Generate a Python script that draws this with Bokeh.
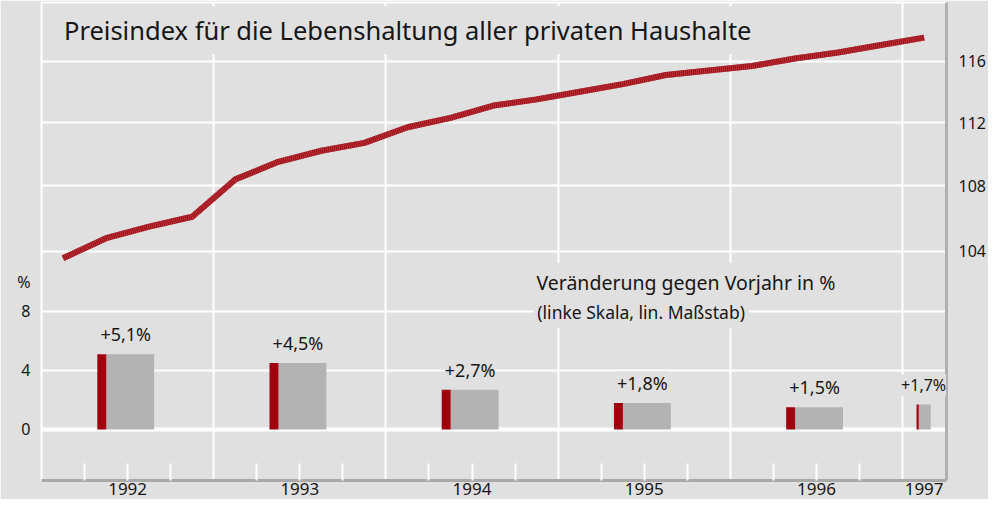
from bokeh.plotting import figure
from bokeh.models import (Range1d, LogScale, LogAxis, FixedTicker, Grid,
                          BasicTickFormatter, ColumnDataSource, LabelSet, Label)
from bokeh.core.properties import value
from bokeh.embed import file_html
from bokeh.resources import INLINE

# ---------------- data ----------------
# Preisindex (quarterly, right log scale)
q_year = [1992, 1992, 1992, 1992, 1993, 1993, 1993, 1993, 1994, 1994, 1994, 1994,
          1995, 1995, 1995, 1995, 1996, 1996, 1996, 1996, 1997]
q_num = [1, 2, 3, 4, 1, 2, 3, 4, 1, 2, 3, 4, 1, 2, 3, 4, 1, 2, 3, 4, 1]
cpi = [103.6, 104.8, 105.5, 106.1, 108.4, 109.5, 110.2, 110.7, 111.7, 112.3, 113.1,
       113.5, 114.0, 114.5, 115.1, 115.4, 115.7, 116.2, 116.6, 117.1, 117.6]

# Veränderung gegen Vorjahr (left linear scale)
periods = [1992, 1993, 1994, 1995, 1996, 1997]
period_span = [1, 1, 1, 1, 1, 0.25]
change = [5.1, 4.5, 2.7, 1.8, 1.5, 1.7]
change_labels = ["+5,1%", "+4,5%", "+2,7%", "+1,8%", "+1,5%", "+1,7%"]
year_labels = ["1992", "1993", "1994", "1995", "1996", "1997"]
left_ticks = [0, 4, 8]
right_ticks = [104, 108, 112, 116]

title_text = "Preisindex für die Lebenshaltung aller privaten Haushalte"
sub1_text = "Veränderung gegen Vorjahr in %"
sub2_text = "(linke Skala, lin. Maßstab)"

# ---------------- style ----------------
FONT = "Noto Sans"
BG = "#e0e0e0"
TXT = "#161616"
RED = "#a0000e"
GREY = "#b3b3b3"

p = figure(width=988, height=499,
           x_range=Range1d(1992.0, 1997.255), y_range=Range1d(-3.46, 28.95),
           output_backend="svg", toolbar_location=None,
           background_fill_color=BG, border_fill_color=BG,
           min_border_left=41, min_border_right=39, min_border_top=2,
           min_border_bottom=19)
p.extra_y_ranges = {"log": Range1d(91.175, 120.0)}
p.extra_y_scales = {"log": LogScale()}
p.outline_line_color = "white"
p.outline_line_width = 2

# grids
p.xgrid.ticker = FixedTicker(ticks=periods)
p.xgrid.grid_line_color = "white"
p.xgrid.grid_line_width = 2
p.ygrid.ticker = FixedTicker(ticks=[t for t in left_ticks if t != 0])
p.ygrid.grid_line_color = "white"
p.ygrid.grid_line_width = 2
p.add_layout(Grid(dimension=1, ticker=FixedTicker(ticks=[0]),
                  grid_line_color="white", grid_line_width=4))
p.add_layout(Grid(dimension=1, ticker=FixedTicker(ticks=right_ticks),
                  y_range_name="log", grid_line_color="white", grid_line_width=2))

# bottom axis: quarter minor ticks, year labels centred in each period
label_pos = [s + sp / 2 for s, sp in zip(periods, period_span)]
quarter_ticks = [s + k * 0.25 for s, sp in zip(periods, period_span)
                 for k in range(1, 4) if k * 0.25 < sp]
xa = p.xaxis[0]
xa.ticker = FixedTicker(ticks=label_pos, minor_ticks=quarter_ticks)
xa.major_label_overrides = {lp: yl for lp, yl in zip(label_pos, year_labels)}
xa.major_tick_line_color = None
xa.minor_tick_in = 17
xa.minor_tick_out = 0
xa.minor_tick_line_color = "white"
xa.minor_tick_line_width = 2
xa.axis_line_color = "#a9a9a9"
xa.axis_line_width = 3
xa.major_label_text_font = FONT
xa.major_label_text_font_size = "17px"
xa.major_label_text_color = TXT
xa.major_label_standoff = -4

# left axis (percent)
ya = p.yaxis[0]
ya.ticker = FixedTicker(ticks=left_ticks + [10])
ya.major_label_overrides = {10: "%"}
ya.axis_line_color = None
ya.major_tick_line_color = None
ya.minor_tick_line_color = None
ya.major_tick_out = 0
ya.minor_tick_out = 0
ya.major_label_text_font = FONT
ya.major_label_text_font_size = "16px"
ya.major_label_text_color = TXT
ya.major_label_standoff = 11

# right axis (index, log)
ra = LogAxis(y_range_name="log", ticker=FixedTicker(ticks=right_ticks),
             formatter=BasicTickFormatter())
ra.axis_line_color = "#b0b0b0"
ra.axis_line_width = 3
ra.major_tick_line_color = None
ra.minor_tick_line_color = None
ra.major_tick_out = 0
ra.major_tick_in = 0
ra.minor_tick_out = 0
ra.minor_tick_in = 0
ra.major_label_text_font = FONT
ra.major_label_text_font_size = "16px"
ra.major_label_text_color = TXT
ra.major_label_standoff = 12
p.add_layout(ra, "right")

# bars
bar_src = ColumnDataSource(dict(
    red_l=[s + 0.324 * sp for s, sp in zip(periods, period_span)],
    red_r=[s + 0.376 * sp for s, sp in zip(periods, period_span)],
    grey_r=[s + 0.654 * sp for s, sp in zip(periods, period_span)],
    mid=[s + 0.489 * sp for s, sp in zip(periods, period_span)],
    val=change,
    lab=change_labels,
    fs=["18px" if sp == 1 else "16px" for sp in period_span],
))
p.quad(left="red_r", right="grey_r", bottom=0, top="val", source=bar_src,
       fill_color=GREY, line_color=None)
p.quad(left="red_l", right="red_r", bottom=0, top="val", source=bar_src,
       fill_color=RED, line_color=None)
p.add_layout(LabelSet(x="mid", y="val", text="lab", source=bar_src,
                      text_align="center", text_baseline="alphabetic",
                      y_offset=13, text_font=value(FONT), text_font_size="fs",
                      text_color=TXT, background_fill_color=BG))

# index line
line_src = ColumnDataSource(dict(
    x=[y + (q - 0.5) / 4 for y, q in zip(q_year, q_num)], y=cpi))
p.line("x", "y", source=line_src, y_range_name="log", line_width=6,
       line_color="#8e1117", line_join="round")
p.line("x", "y", source=line_src, y_range_name="log", line_width=6,
       line_color="#c8323a", line_dash="1 1", line_join="round")

# texts
p.add_layout(Label(x=1992.090, y=27.07, text=title_text, text_font=FONT,
                   text_font_size="25.5px", text_color=TXT, text_baseline="alphabetic",
                   background_fill_color=BG, padding=7))
p.add_layout(Label(x=1994.839, y=9.98, text=sub1_text, text_font=FONT,
                   text_font_size="19.5px", text_color=TXT, text_baseline="alphabetic",
                   background_fill_color=BG, padding=6))
p.add_layout(Label(x=1994.856, y=7.95, text=sub2_text, text_font=FONT,
                   text_font_size="17.5px", text_color=TXT, text_baseline="alphabetic",
                   background_fill_color=BG, padding=4))

open("out.html", "w").write(file_html(p, INLINE))
